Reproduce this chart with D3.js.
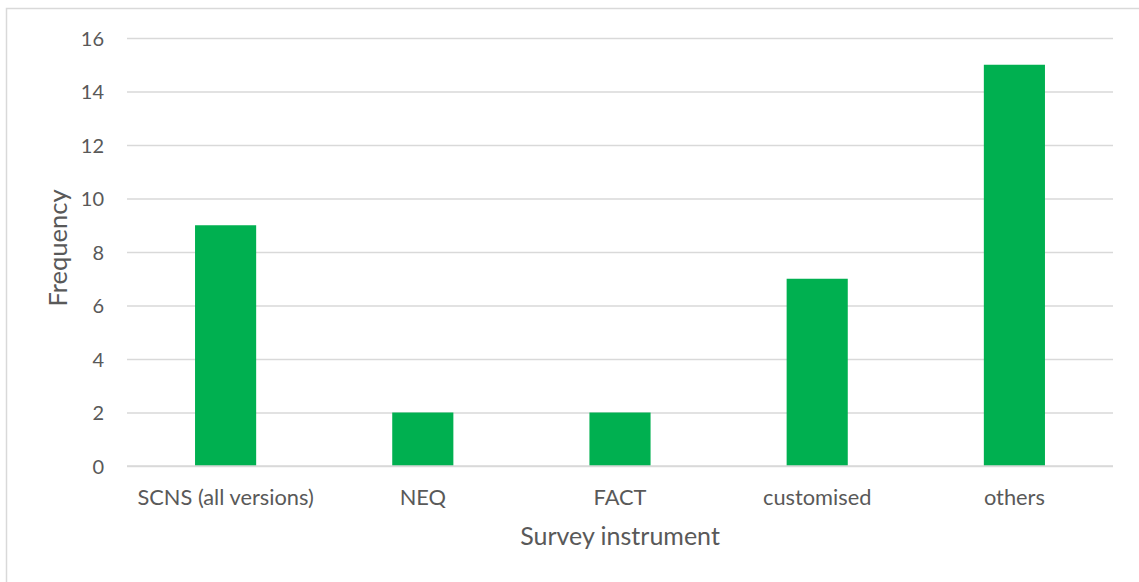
<!DOCTYPE html>
<html>
<head>
<meta charset="utf-8">
<script src="https://cdn.jsdelivr.net/npm/d3@7"></script>
<style>
  html, body { margin: 0; padding: 0; background: #fff; }
  svg { display: block; }
  text { font-family: Lato, "Open Sans", sans-serif; fill: #595959; }
</style>
</head>
<body>
<svg id="chart" width="1139" height="582"></svg>
<script>
// Survey instruments and how often each was used
const categories = ["SCNS (all versions)", "NEQ", "FACT", "customised", "others"];
const frequency = [9, 2, 2, 7, 15];
const yTicks = [0, 2, 4, 6, 8, 10, 12, 14, 16];

const svg = d3.select("#chart");
const W = 1139, H = 582;
const plot = { left: 127, right: 1113, top: 38, bottom: 466 };

// outer chart frame (continues past the right and bottom edges)
svg.append("rect")
  .attr("x", 6.5).attr("y", 8.5)
  .attr("width", W + 10).attr("height", H + 10)
  .attr("fill", "#fff").attr("stroke", "#d9d9d9").attr("stroke-width", 1.5);

const x = d3.scaleBand().domain(categories)
  .range([plot.left, plot.right]).paddingInner(0.69).paddingOuter(0.345);
const y = d3.scaleLinear().domain([0, 16]).range([plot.bottom, plot.top]);

// horizontal gridlines + tick labels
const yAxis = d3.axisLeft(y).tickValues(yTicks)
  .tickSize(-(plot.right - plot.left)).tickPadding(23);
const gy = svg.append("g").attr("transform", `translate(${plot.left},0)`).call(yAxis);
gy.select(".domain").remove();
gy.selectAll(".tick line").attr("stroke", "#d9d9d9").attr("stroke-width", 1.3);
gy.selectAll(".tick text").attr("font-size", 20).style("fill", "#595959")
  .attr("font-family", "Lato, sans-serif").attr("dy", "0.35em");

// bars
svg.append("g").selectAll("rect").data(categories).join("rect")
  .attr("x", d => x(d))
  .attr("width", x.bandwidth())
  .attr("y", (d, i) => y(frequency[i]))
  .attr("height", (d, i) => y(0) - y(frequency[i]))
  .attr("fill", "#00b050");

// category axis
const xAxis = d3.axisBottom(x).tickSize(0).tickPadding(0);
const gx = svg.append("g").attr("transform", `translate(0,${plot.bottom})`).call(xAxis);
gx.select(".domain").attr("stroke", "#d9d9d9").attr("stroke-width", 1.3)
  .attr("d", `M${plot.left},0H${plot.right}`);
gx.selectAll(".tick text").attr("font-size", 21.8).style("fill", "#595959")
  .attr("font-family", "Lato, sans-serif")
  .attr("y", 39).attr("dy", null);

// axis titles
svg.append("text")
  .attr("x", (plot.left + plot.right) / 2).attr("y", 545)
  .attr("text-anchor", "middle").attr("font-size", 25)
  .text("Survey instrument");

svg.append("text")
  .attr("transform", `translate(67,248) rotate(-90)`)
  .attr("text-anchor", "middle").attr("font-size", 25.5)
  .text("Frequency");
</script>
</body>
</html>
